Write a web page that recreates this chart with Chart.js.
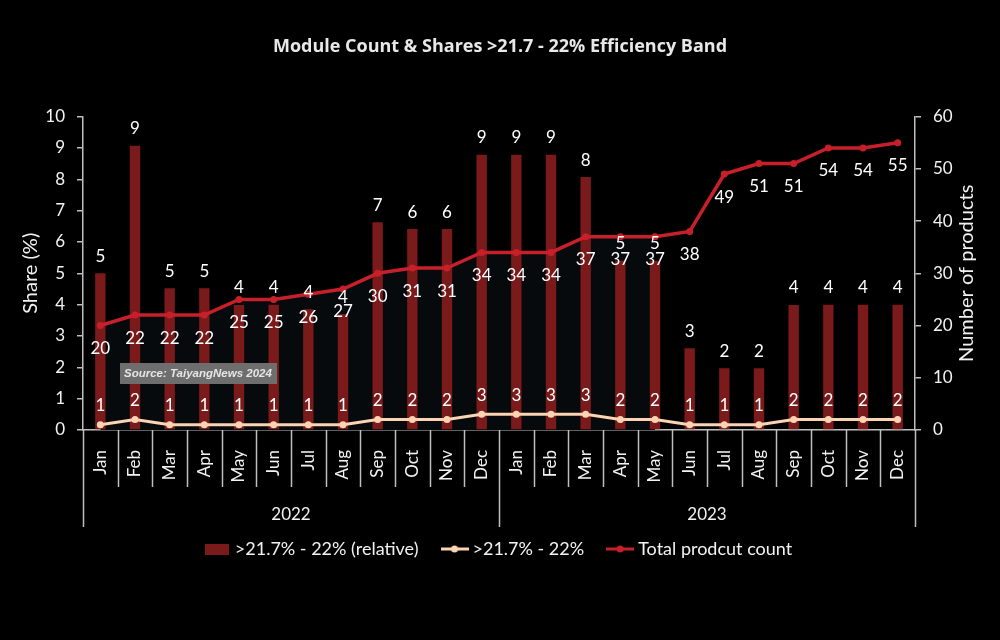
<!DOCTYPE html>
<html>
<head>
  <meta charset="utf-8">
  <script src="https://cdn.jsdelivr.net/npm/chart.js@4.4.0/dist/chart.umd.min.js"></script>
  <style>
    html, body { margin: 0; padding: 0; background: #000; }
  </style>
</head>
<body>
  <canvas id="bandCanvas" width="1000" height="640"></canvas>

  <script>
    const months = ['Jan', 'Feb', 'Mar', 'Apr', 'May', 'Jun', 'Jul', 'Aug', 'Sep', 'Oct', 'Nov', 'Dec',
                    'Jan', 'Feb', 'Mar', 'Apr', 'May', 'Jun', 'Jul', 'Aug', 'Sep', 'Oct', 'Nov', 'Dec'];
    const years = ['2022', '2023'];

    // share of the band in total products (%), left axis
    const shareRelative = [5.0, 9.07, 4.52, 4.52, 3.99, 4.0, 3.85, 3.7, 6.63, 6.41, 6.41, 8.78,
                           8.78, 8.78, 8.07, 5.4, 5.4, 2.61, 1.97, 1.97, 3.99, 4.0, 4.0, 4.0];
    // number of products in the >21.7 - 22% band, right axis
    const bandCount = [1, 2, 1, 1, 1, 1, 1, 1, 2, 2, 2, 3,
                       3, 3, 3, 2, 2, 1, 1, 1, 2, 2, 2, 2];
    // total product count, right axis
    const totalCount = [20, 22, 22, 22, 25, 25, 26, 27, 30, 31, 31, 34,
                        34, 34, 37, 37, 37, 38, 49, 51, 51, 54, 54, 55];

    const shareTicks = [0, 1, 2, 3, 4, 5, 6, 7, 8, 9, 10];
    const countTicks = [0, 10, 20, 30, 40, 50, 60];

    const barColor = '#7b1a1b';
    const totalColor = '#c8202a';
    const bandColor = '#fcd3b3';
    const axisColor = '#bfbfbf';
    const textColor = '#f2f2f2';

    function swatch(kind, color) {
      const c = document.createElement('canvas');
      const g = c.getContext('2d');
      if (kind === 'box') {
        c.width = 24; c.height = 11;
        g.fillStyle = color;
        g.fillRect(0, 0, 24, 11);
      } else {
        c.width = 28; c.height = 10;
        g.strokeStyle = color;
        g.lineWidth = 3;
        g.beginPath(); g.moveTo(0, 5); g.lineTo(28, 5); g.stroke();
        g.fillStyle = color;
        g.beginPath(); g.arc(14, 5, 3.5, 0, Math.PI * 2); g.fill();
      }
      return c;
    }

    // number labels on bars and points
    const valueLabels = {
      id: 'valueLabels',
      afterDatasetsDraw(chart) {
        const ctx = chart.ctx;
        ctx.save();
        ctx.font = '17px Lato';
        ctx.fillStyle = '#ffffff';
        ctx.textAlign = 'center';
        ctx.textBaseline = 'middle';
        chart.data.datasets.forEach((ds, i) => {
          const meta = chart.getDatasetMeta(i);
          meta.data.forEach((el, j) => {
            let y;
            if (ds.type === 'bar') y = el.y - 17;
            else if (ds.labelBelow) y = el.y + 23;
            else y = el.y - 19;
            ctx.fillText(Math.round(ds.data[j]), el.x, y);
          });
        });

        // source stamp
        ctx.fillStyle = '#6e6e6e';
        ctx.fillRect(120, 363, 157, 21);
        ctx.font = 'italic bold 11.5px "Liberation Sans"';
        ctx.fillStyle = '#e6e6e6';
        ctx.textAlign = 'left';
        ctx.fillText('Source: TaiyangNews 2024', 124, 374);
        ctx.restore();
      }
    };

    // month separators, the year row and the right axis title
    const yearAxis = {
      id: 'yearAxis',
      afterDraw(chart) {
        const sx = chart.scales.x;
        const ctx = chart.ctx;
        const step = (sx.right - sx.left) / months.length;
        ctx.save();
        ctx.strokeStyle = axisColor;
        ctx.lineWidth = 1.5;
        for (let i = 0; i <= months.length; i++) {
          const px = Math.round(sx.left + i * step) + 0.5;
          const yearEdge = i % 12 === 0;
          ctx.beginPath();
          ctx.moveTo(px, sx.top);
          ctx.lineTo(px, sx.top + (yearEdge ? 97 : 57));
          ctx.stroke();
        }
        ctx.font = '17px Lato';
        ctx.fillStyle = textColor;
        ctx.textAlign = 'center';
        ctx.textBaseline = 'middle';
        years.forEach((yr, k) => {
          ctx.fillText(yr, sx.left + (k * 12 + 6) * step, sx.top + 85);
        });

        const area = chart.chartArea;
        ctx.translate(967, (area.top + area.bottom) / 2);
        ctx.rotate(-Math.PI / 2);
        ctx.font = '20px Lato';
        ctx.fillText('Number of products', 0, 0);
        ctx.restore();
      }
    };

    const ctx = document.getElementById('bandCanvas').getContext('2d');

    new Chart(ctx, {
      data: {
        labels: months,
        datasets: [
          {
            type: 'line',
            label: 'Total prodcut count',
            data: totalCount,
            yAxisID: 'y1',
            borderColor: totalColor,
            backgroundColor: '#060a0d',
            borderWidth: 3.5,
            pointRadius: 3.5,
            pointBackgroundColor: totalColor,
            pointBorderWidth: 0,
            fill: 'origin',
            segment: {
              backgroundColor: c => c.p0DataIndex >= 16 ? 'rgba(0,0,0,0)' : '#060a0d'
            },
            labelBelow: true,
            order: 0
          },
          {
            type: 'line',
            label: '>21.7% - 22%',
            data: bandCount,
            yAxisID: 'y1',
            borderColor: bandColor,
            backgroundColor: bandColor,
            borderWidth: 3,
            pointRadius: 3.5,
            pointBackgroundColor: bandColor,
            pointBorderWidth: 0,
            fill: false,
            order: 0
          },
          {
            type: 'bar',
            label: '>21.7% - 22% (relative)',
            data: shareRelative,
            yAxisID: 'y',
            backgroundColor: barColor,
            barPercentage: 0.3,
            categoryPercentage: 1,
            order: 1
          }
        ]
      },
      options: {
        responsive: false,
        animation: false,
        layout: { padding: { left: 0, right: 0, top: 0, bottom: 72 } },
        plugins: {
          filler: { drawTime: 'beforeDatasetsDraw' },
          tooltip: { enabled: false },
          title: {
            display: true,
            text: 'Module Count & Shares >21.7 - 22% Efficiency Band',
            color: '#e8e8e8',
            font: { family: 'Open Sans', size: 18, weight: 'bold' },
            padding: { top: 36, bottom: 59 }
          },
          legend: {
            position: 'bottom',
            labels: {
              color: textColor,
              font: { family: 'Lato', size: 18 },
              usePointStyle: true,
              pointStyleWidth: 18,
              padding: 27,
              generateLabels: () => [
                { text: '>21.7% - 22% (relative)', pointStyle: swatch('box', barColor), fillStyle: barColor, strokeStyle: barColor, lineWidth: 0, fontColor: textColor, hidden: false, datasetIndex: 2 },
                { text: '>21.7% - 22%', pointStyle: swatch('line', bandColor), fillStyle: bandColor, strokeStyle: bandColor, lineWidth: 0, fontColor: textColor, hidden: false, datasetIndex: 1 },
                { text: 'Total prodcut count', pointStyle: swatch('line', totalColor), fillStyle: totalColor, strokeStyle: totalColor, lineWidth: 0, fontColor: textColor, hidden: false, datasetIndex: 0 }
              ]
            }
          }
        },
        scales: {
          x: {
            type: 'category',
            grid: { display: false },
            border: { display: true, color: axisColor, width: 1.5 },
            ticks: {
              color: textColor,
              font: { family: 'Lato', size: 17 },
              maxRotation: 90,
              minRotation: 90,
              padding: 12,
              autoSkip: false
            },
            afterFit: s => { s.height = 83; }
          },
          y: {
            position: 'left',
            min: 0,
            max: 10,
            afterBuildTicks: s => { s.ticks = shareTicks.map(v => ({ value: v })); },
            grid: { drawOnChartArea: false, color: axisColor, tickLength: 6, lineWidth: 1.5 },
            border: { color: axisColor, width: 1.5 },
            ticks: { color: textColor, font: { family: 'Lato', size: 17 }, padding: 12 },
            title: {
              display: true,
              text: 'Share (%)',
              color: textColor,
              font: { family: 'Lato', size: 20 },
              padding: { top: 19, bottom: 0 }
            },
            afterFit: s => { s.width = 83; }
          },
          y1: {
            position: 'right',
            min: 0,
            max: 60,
            afterBuildTicks: s => { s.ticks = countTicks.map(v => ({ value: v })); },
            grid: { drawOnChartArea: false, color: axisColor, tickLength: 6, lineWidth: 1.5 },
            border: { color: axisColor, width: 1.5 },
            ticks: { color: textColor, font: { family: 'Lato', size: 17 }, padding: 12 },
            afterFit: s => { s.width = 85; }
          }
        }
      },
      plugins: [valueLabels, yearAxis]
    });
  </script>
</body>
</html>
